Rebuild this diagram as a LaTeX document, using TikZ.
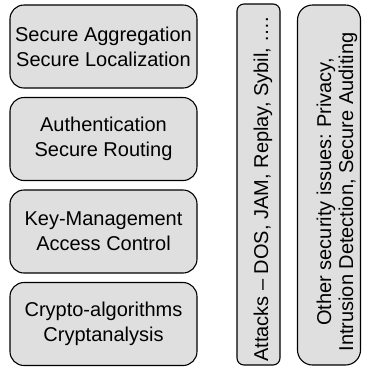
\documentclass[tikz,border=0pt]{standalone}
\usepackage{fontspec}
\setmainfont{Liberation Sans}
\frenchspacing
\begin{document}
\begin{tikzpicture}[x=1pt,y=-1pt,
  box/.style={draw=black, line width=1.1pt, fill=gray!25, inner sep=0pt},
  layer/.style={box, rounded corners=14pt, align=center,
    minimum width=187pt, minimum height=83pt, font=\fontsize{20}{25}\selectfont},
  sidetext/.style={rotate=90, inner sep=0pt, font=\fontsize{20}{22}\selectfont}]
\useasboundingbox (0,0) rectangle (375,368);
\node[layer] (agg) at (103.5,46.5) {Secure Aggregation\\Secure Localization};
\node[layer] (auth) at (103.5,139) {Authentication\\Secure Routing};
\node[layer] (key) at (103.5,231.5) {Key-Management\\Access Control};
\node[layer] (crypto) at (103.5,324) {Crypto-algorithms\\Cryptanalysis};
\node[box, rounded corners=7pt, minimum width=43pt, minimum height=361pt] (attbox) at (258.5,184.5) {};
\node[sidetext, anchor=base west] (att) at (268,362) {Attacks – DOS, JAM, Replay, Sybil, ….};
\node[box, rounded corners=15pt, minimum width=63pt, minimum height=360pt] (othbox) at (329,185) {};
\node[sidetext, align=center] (oth) at (337,192) {Other security issues: Privacy,\\Intrusion Detection, Secure Auditing};
\end{tikzpicture}
\end{document}
